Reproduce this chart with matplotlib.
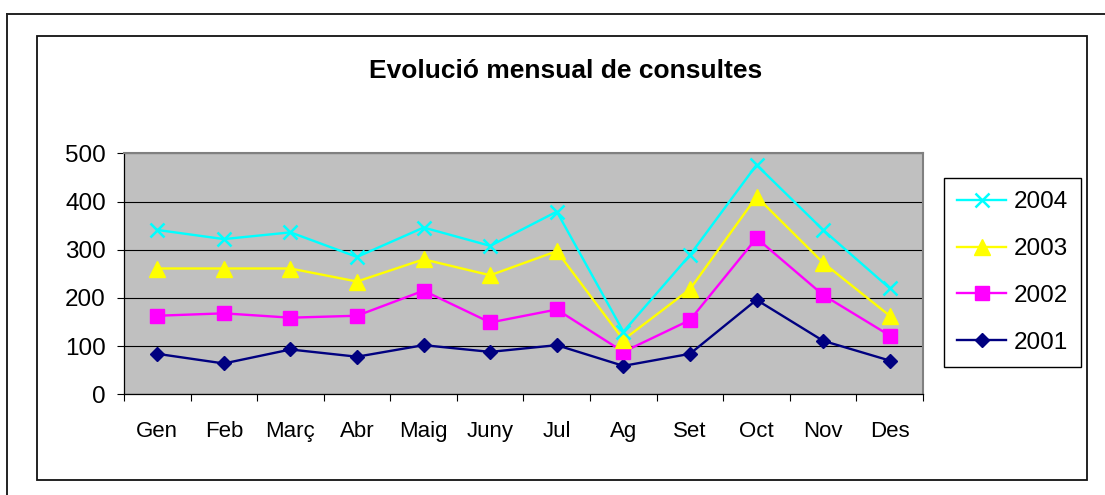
import matplotlib
matplotlib.use("Agg")
import matplotlib.pyplot as plt
from matplotlib.lines import Line2D
from matplotlib.patches import Rectangle
import numpy as np

plt.rcParams['font.family'] = ['Liberation Sans', 'DejaVu Sans']

# consultes per mes i any
months = ['Gen', 'Feb', 'Març', 'Abr', 'Maig', 'Juny', 'Jul', 'Ag', 'Set', 'Oct', 'Nov', 'Des']
years = ['2001', '2002', '2003', '2004']
c2001 = [84, 64, 93, 78, 102, 88, 102, 59, 84, 196, 111, 70]
c2002 = [163, 168, 159, 163, 215, 149, 176, 88, 154, 324, 206, 122]
c2003 = [261, 261, 261, 234, 280, 247, 297, 113, 218, 410, 273, 163]
c2004 = [341, 322, 336, 285, 346, 308, 379, 130, 289, 476, 341, 220]

series = [c2001, c2002, c2003, c2004]
colors = ['#000080', '#FF00FF', '#FFFF00', '#00FFFF']
markers = ['D', 's', '^', 'x']
msizes = [7, 9.5, 11, 9.5]

fig = plt.figure(figsize=(11.05, 4.95), dpi=100)

# outer frame (top and left edges only) and chart area box
fig.add_artist(Line2D([0.006, 1.0], [0.9727, 0.9727], transform=fig.transFigure,
                      color='#222222', lw=1.4))
fig.add_artist(Line2D([0.006, 0.006], [0.0, 0.9727], transform=fig.transFigure,
                      color='#222222', lw=1.4))
fig.add_artist(Rectangle((0.0335, 0.0303), 0.9502, 0.897, transform=fig.transFigure,
                         fill=False, edgecolor='#111111', lw=1.3))

ax = fig.add_axes([0.1122, 0.2034, 0.7231, 0.4869])
ax.set_facecolor('#C0C0C0')

x = np.arange(len(months))
handles = []
for vals, col, mk, ms, yr in zip(series, colors, markers, msizes, years):
    ln, = ax.plot(x, vals, color=col, lw=1.7, marker=mk, markersize=ms,
                  markerfacecolor=col, markeredgecolor=col,
                  markeredgewidth=1.8 if mk == 'x' else 1.0, label=yr,
                  clip_on=False, zorder=3)
    handles.append(ln)

ax.set_xlim(-0.5, len(months) - 0.5)
ax.set_ylim(0, 500)
ax.set_yticks(range(0, 501, 100))
ax.yaxis.grid(True, color='black', lw=0.8)
ax.set_axisbelow(True)

ax.set_xticks(x)
ax.set_xticklabels(months, fontsize=16)
ax.set_xticks(np.arange(-0.5, len(months), 1), minor=True)
ax.tick_params(axis='x', which='major', length=0, pad=19)
ax.tick_params(axis='x', which='minor', length=5, width=0.8, direction='out')
ax.tick_params(axis='y', length=5, width=0.8, direction='out', labelsize=17.5, pad=8)

for side in ('top', 'right'):
    ax.spines[side].set_color('#808080')
    ax.spines[side].set_linewidth(1.5)
for side in ('left', 'bottom'):
    ax.spines[side].set_color('black')
    ax.spines[side].set_linewidth(0.9)

fig.text(0.5118, 0.856, 'Evolució mensual de consultes', ha='center', va='center',
         fontsize=19, fontweight='bold')

leg = fig.legend(handles[::-1], years[::-1], loc='upper left',
                 bbox_to_anchor=(0.8543, 0.6404), borderaxespad=0,
                 fontsize=17.5, frameon=True, fancybox=False, framealpha=1,
                 edgecolor='black', handlelength=2.0, handletextpad=0.3,
                 labelspacing=1.02, borderpad=0.55)
leg.get_frame().set_linewidth(1.0)

fig.savefig('out.png', dpi=100)
